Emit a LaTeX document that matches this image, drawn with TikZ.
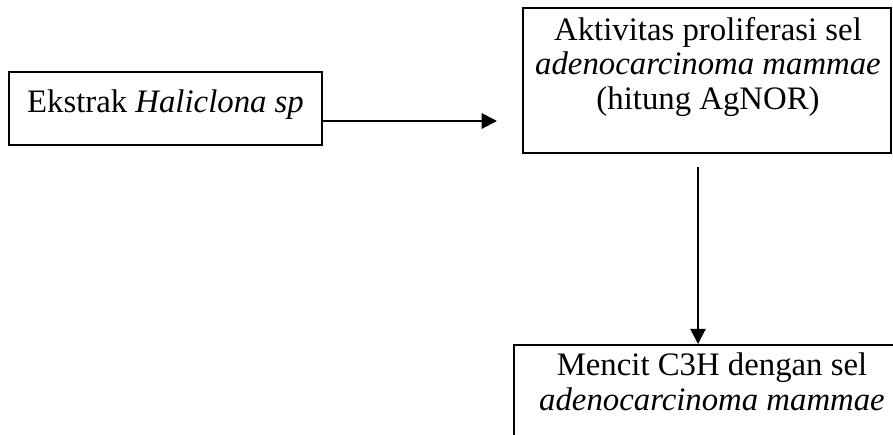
\documentclass[tikz,border=0pt]{standalone}
\usepackage{fontspec}
\setmainfont{Liberation Serif}
\usetikzlibrary{calc,arrows.meta}
\tikzset{
	kotak/.style={draw, line width=0.7pt, rectangle, inner sep=0pt},
	tulisan/.style={inner sep=0pt, align=center, font=\fontsize{11.8pt}{12.3pt}\selectfont},
	panah/.style={line width=0.7pt, -{Triangle[length=5.5pt,width=5.5pt]}}
}
\begin{document}
\begin{tikzpicture}[x=0.36pt, y=-0.36pt]
		%%%%% START %%%%%
		
		\clip (0, 0) rectangle (893, 434);
		
		\node[kotak, minimum width=112.7pt, minimum height=26.3pt] (ekstrak) at (165.5, 108.5) {};
		\node[kotak, minimum width=132.5pt, minimum height=52.2pt] (aktivitas) at (707, 80.5) {};
		\node[kotak, minimum width=142.6pt, minimum height=50.4pt] (mencit) at (712, 415) {};
		
		% base = last line
		\node[tulisan, anchor=base] (tEkstrak) at ($(ekstrak.north)+(0,41)$) {Ekstrak \textit{Haliclona sp}};
		\node[tulisan, anchor=base] (tAktivitas) at ($(aktivitas.north)+(1,102)$) {Aktivitas proliferasi sel\\\textit{adenocarcinoma mammae}\\(hitung AgNOR)};
		\node[tulisan, anchor=base] (tMencit) at ($(mencit.north)+(0,66)$) {Mencit C3H dengan sel\\\textit{adenocarcinoma mammae}};
		
		\coordinate (a1s) at ($(ekstrak.east)+(0,12.5)$);
		\coordinate (a1e) at ($(aktivitas.west)+(-25,0)$);
		\draw[panah] (a1s) -- (a1s -| a1e);
		
		\coordinate (a2s) at ($(aktivitas.south)+(-9,13)$);
		\draw[panah] (a2s) -- (a2s |- mencit.north);
		
		%%%%% END %%%%%
\end{tikzpicture}
\end{document}
